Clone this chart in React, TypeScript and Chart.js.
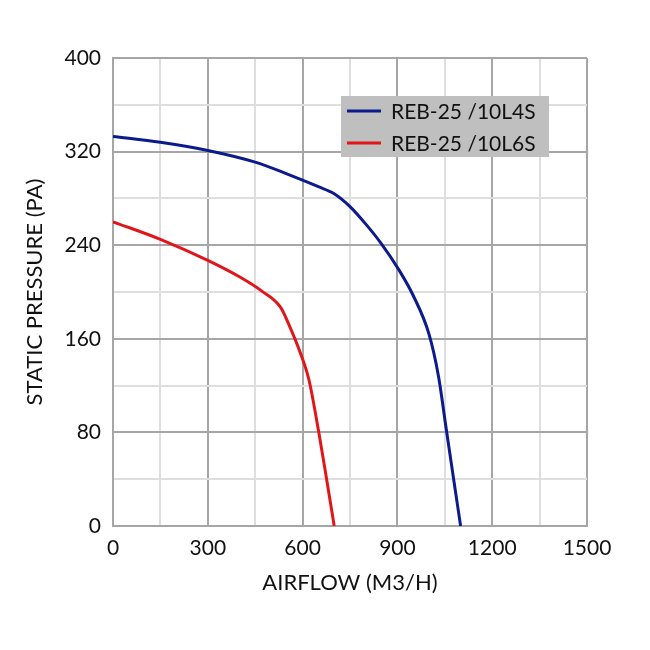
import React, { useEffect, useRef } from "react";
import { Chart, registerables } from "chart.js";

Chart.register(...registerables);

const SERIES_LABELS = ["REB-25 /10L4S", "REB-25 /10L6S"];
const SERIES_COLORS = ["#0b1a8c", "#e0161b"];

const BLUE_X = [0, 150, 300, 450, 550, 650, 700, 750, 800, 850, 900, 950, 1000, 1030, 1055, 1078, 1100];
const BLUE_Y = [333, 328, 321, 311, 301, 290, 284, 273, 258, 241, 221, 197, 164, 128, 82, 40, 0];

const RED_X = [0, 150, 300, 400, 470, 530, 560, 590, 620, 650, 676, 700];
const RED_Y = [260, 245, 227, 213, 201, 187, 170, 150, 125, 82, 40, 0];

const X_TICKS = [0, 300, 600, 900, 1200, 1500];
const Y_TICKS = [0, 80, 160, 240, 320, 400];

const X_TITLE = "AIRFLOW (M3/H)";
const Y_TITLE = "STATIC PRESSURE (PA)";

const FONT = "Lato";

const toPoints = (xs: number[], ys: number[]) => xs.map((x, i) => ({ x, y: ys[i] }));

const legendPlugin = {
  id: "boxLegend",
  afterDatasetsDraw(chart: any) {
    const { ctx, chartArea } = chart;
    const left = chartArea.left + 228;
    const top = chartArea.top + 38;
    const w = 208;
    const h = 61;
    ctx.save();
    ctx.fillStyle = "#bfbfbf";
    ctx.fillRect(left, top, w, h);
    chart.data.datasets.forEach((ds: any, i: number) => {
      const cy = top + 15 + i * 32;
      ctx.strokeStyle = ds.borderColor;
      ctx.lineWidth = 3;
      ctx.beginPath();
      ctx.moveTo(left + 6, cy);
      ctx.lineTo(left + 40, cy);
      ctx.stroke();
      ctx.fillStyle = "#111";
      ctx.font = `21px ${FONT}`;
      ctx.textBaseline = "middle";
      ctx.textAlign = "left";
      ctx.fillText(ds.label, left + 50, cy + 1);
    });
    ctx.restore();
  },
};

export default function App() {
  const ref = useRef<HTMLCanvasElement>(null);
  useEffect(() => {
    if (!ref.current) return;
    const major = "#a6a6a6";
    const minor = "#dedede";
    const chart = new Chart(ref.current, {
      type: "line",
      data: {
        datasets: [
          {
            label: SERIES_LABELS[0],
            data: toPoints(BLUE_X, BLUE_Y),
            borderColor: SERIES_COLORS[0],
            borderWidth: 3,
            pointRadius: 0,
            cubicInterpolationMode: "monotone",
            fill: false,
          },
          {
            label: SERIES_LABELS[1],
            data: toPoints(RED_X, RED_Y),
            borderColor: SERIES_COLORS[1],
            borderWidth: 3,
            pointRadius: 0,
            cubicInterpolationMode: "monotone",
            fill: false,
          },
        ],
      },
      options: {
        animation: false,
        responsive: false,
        layout: { padding: { left: 0, top: 58, right: 63, bottom: 0 } },
        plugins: { legend: { display: false }, tooltip: { enabled: false } },
        scales: {
          x: {
            type: "linear",
            min: X_TICKS[0],
            max: X_TICKS[X_TICKS.length - 1],
            afterFit: (s: any) => {
              s.height = 124;
            },
            ticks: {
              stepSize: 150,
              padding: 10,
              maxRotation: 0,
              minRotation: 0,
              autoSkip: false,
              color: "#111",
              font: { family: FONT, size: 21 },
              callback: (v: any) => (X_TICKS.includes(Number(v)) ? String(v) : ""),
            },
            grid: {
              drawTicks: false,
              lineWidth: 2,
              color: (c: any) => (X_TICKS.includes(c.tick?.value) ? major : minor),
            },
            border: { color: major, width: 2 },
            title: {
              display: true,
              text: X_TITLE,
              color: "#111",
              font: { family: FONT, size: 22 },
              padding: { top: 0, bottom: 54 },
            },
          },
          y: {
            type: "linear",
            min: Y_TICKS[0],
            max: Y_TICKS[Y_TICKS.length - 1],
            afterFit: (s: any) => {
              s.width = 113;
            },
            ticks: {
              stepSize: 40,
              padding: 12,
              autoSkip: false,
              color: "#111",
              font: { family: FONT, size: 21 },
              callback: (v: any) => (Y_TICKS.includes(Number(v)) ? String(v) : ""),
            },
            grid: {
              drawTicks: false,
              lineWidth: 2,
              color: (c: any) => (Y_TICKS.includes(c.tick?.value) ? major : minor),
            },
            border: { color: major, width: 2 },
            title: {
              display: true,
              text: Y_TITLE,
              color: "#111",
              font: { family: FONT, size: 22 },
              padding: { top: 22, bottom: 0 },
            },
          },
        },
      },
      plugins: [legendPlugin],
    } as any);
    return () => chart.destroy();
  }, []);
  return (
    <div style={{ position: "fixed", left: 0, top: 0, width: 650, height: 650, background: "#fff" }}>
      <canvas ref={ref} width={650} height={650} />
    </div>
  );
}
